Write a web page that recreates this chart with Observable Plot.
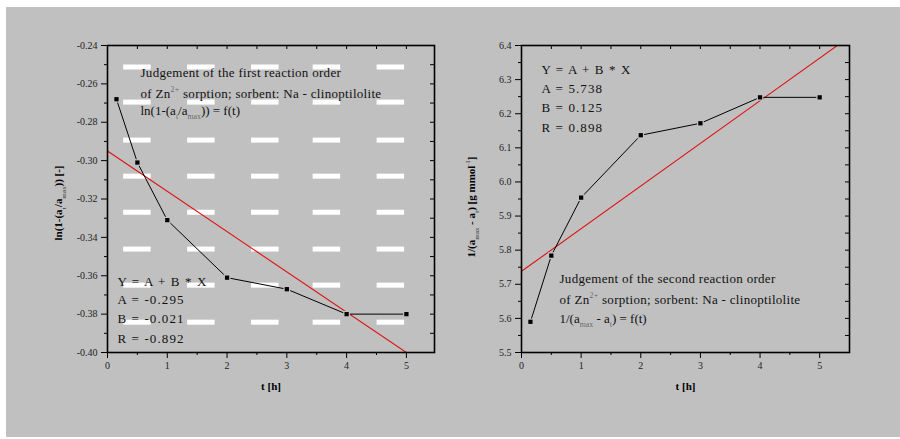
<!DOCTYPE html>
<html><head><meta charset="utf-8">
<script src="https://cdn.jsdelivr.net/npm/d3@7"></script>
<script src="https://cdn.jsdelivr.net/npm/@observablehq/plot@0.6"></script>
<style>
html,body{margin:0;padding:0;background:#fff;}
#wrap{position:relative;width:900px;height:439px;overflow:hidden;background:#fff;}
#bg{position:absolute;left:6px;top:7px;width:894px;height:430px;background:#c0c0c0;}
.panel{position:absolute;top:0;}
.panel svg text{font-family:'Liberation Serif','DejaVu Serif',serif;}
</style></head><body>
<div id="wrap"><div id="bg"></div><div id="p1" class="panel" style="left:0"></div><div id="p2" class="panel" style="left:450px"></div></div>
<script>
// ---- data ----
const tHours = [0.15, 0.5, 1, 2, 3, 4, 5];
const firstOrderY = [-0.268, -0.301, -0.331, -0.361, -0.367, -0.380, -0.380];
const secondOrderY = [5.590, 5.784, 5.954, 6.137, 6.172, 6.248, 6.248];
const fit1A = -0.295, fit1B = -0.021, fit1R = -0.892;
const fit2A = 5.738, fit2B = 0.125, fit2R = 0.898;
const xTicks = [0, 1, 2, 3, 4, 5];
const leftYTicks = [-0.40, -0.38, -0.36, -0.34, -0.32, -0.30, -0.28, -0.26, -0.24];
const rightYTicks = [5.5, 5.6, 5.7, 5.8, 5.9, 6.0, 6.1, 6.2, 6.3, 6.4];
const leftTitle = ["Judgement of the first reaction order", "of Zn^{2+} sorption; sorbent: Na - clinoptilolite", "ln(1-(a_{t}/a_{max})) = f(t)"];
const rightTitle = ["Judgement of the second reaction order", "of Zn^{2+} sorption; sorbent: Na - clinoptilolite", "1/(a_{max} - a_{t}) = f(t)"];
const leftYLabel = "ln(1-(a_{t}/a_{max})) [-]";
const rightYLabel = "1/(a_{max} - a_{t}) [g mmol^{-1}]";
const xLabel = "t [h]";
// decorative white dashes in the left panel (background artefact of the original)
const dashRows = [-0.2512, -0.2695, -0.2893, -0.3081, -0.3269, -0.3461, -0.3649, -0.3842];
const dashStarts = [0.27, 1.34, 2.41, 3.44, 4.51];
const dashLength = 0.46;

const statLines = (A, B, R) => ["Y = A + B * X", `A = ${A.toFixed(3)}`, `B = ${B.toFixed(3)}`, `R = ${R.toFixed(3)}`];
const mids = arr => d3.pairs(arr).map(([a, b]) => (a + b) / 2);

const H = 439, W = 450, MT = 45, MB = 87;
const SERIF = "'Liberation Serif', 'DejaVu Serif', serif";

function textLines(lines, dx, dys, opts) {
  return lines.map((s, i) => Plot.text([s], {text: d => d, frameAnchor: "top-left", dx, dy: dys[i],
    textAnchor: "start", lineAnchor: "bottom", fill: "#111", fontFamily: SERIF, ...opts}));
}

function panel(cfg) {
  const fw = W - cfg.marginLeft - cfg.marginRight, fh = H - MT - MB;
  const pts = tHours.map((t, i) => ({t, v: cfg.values[i]}));
  const fit = cfg.fitX.map(x => ({t: x, v: cfg.A + cfg.B * x}));
  const xMinor = mids(xTicks);
  const yMinor = mids(cfg.yTicks);
  const yAll = cfg.yTicks.concat(yMinor);
  return Plot.plot({
    width: W, height: H,
    marginLeft: cfg.marginLeft, marginRight: cfg.marginRight, marginTop: MT, marginBottom: MB,
    style: {background: "transparent", fontFamily: SERIF, overflow: "visible", color: "#000"},
    x: {domain: cfg.xDomain},
    y: {domain: cfg.yDomain},
    marks: [
      ...(cfg.dashes ? [Plot.ruleY(cfg.dashes, {y: "y", x1: "x1", x2: "x2", stroke: "white", strokeWidth: 5})] : []),
      Plot.line(fit, {x: "t", y: "v", stroke: "#e01010", strokeWidth: 1.1, clip: true}),
      Plot.line(pts, {x: "t", y: "v", stroke: "#000", strokeWidth: 1}),
      Plot.dot(pts, {x: "t", y: "v", symbol: "square", r: 3.8, fill: "#c0c0c0"}),
      Plot.dot(pts, {x: "t", y: "v", symbol: "square", r: 2.4, fill: "#000"}),
      Plot.frame({stroke: "#000", strokeWidth: 1.6}),
      Plot.axisX({anchor: "bottom", ticks: xTicks, tickSize: 6, tickPadding: 3, tickFormat: d => String(d), fontSize: 10, fontFamily: SERIF, fill: "#222", label: null}),
      Plot.axisX({anchor: "bottom", ticks: xMinor, tickSize: 3, tickFormat: () => "", label: null}),
      Plot.axisY({anchor: "left", ticks: cfg.yTicks, tickSize: 6, tickPadding: 4, tickFormat: cfg.yFmt, fontSize: 10, fontFamily: SERIF, fill: "#222", label: null}),
      Plot.axisY({anchor: "left", ticks: yMinor, tickSize: 3, tickFormat: () => "", label: null}),
      Plot.tickX(xTicks.concat(xMinor), {x: d => d, insetBottom: fh - 4, stroke: "#000"}),
      Plot.tickY(yAll, {y: d => d, insetLeft: fw - 4, stroke: "#000"}),
      ...textLines(cfg.title, cfg.titleDx, cfg.titleDy, {fontSize: 13}),
      ...textLines(cfg.stats, cfg.statDx, cfg.statDy, {fontSize: 13}),
      Plot.text([cfg.yLabel], {text: d => d, frameAnchor: "left", rotate: -90, dx: cfg.yLabelDx, dy: cfg.yLabelDy,
        textAnchor: "middle", lineAnchor: "middle", fontSize: 11, fontWeight: "bold", fontFamily: SERIF}),
      Plot.text([xLabel], {text: d => d, frameAnchor: "bottom", dy: 34, lineAnchor: "middle", fontSize: 11, fontWeight: "bold", fontFamily: SERIF})
    ]
  });
}

function markup(svg) {
  d3.select(svg).selectAll("text").each(function () {
    const s = this.textContent;
    if (s.startsWith("Y =") || /^[ABR] =/.test(s)) this.setAttribute("letter-spacing", "1.1");
    if (s.startsWith("Judgement") || s.startsWith("of Zn")) this.setAttribute("letter-spacing", "0.3");
    if (!/[_^]\{/.test(s)) return;
    const fs = parseFloat(getComputedStyle(this).fontSize) || 12;
    this.textContent = "";
    const re = /([_^])\{([^}]*)\}/g;
    let last = 0, m, shift = 0;
    const add = (txt, dy, small) => {
      const ts = document.createElementNS("http://www.w3.org/2000/svg", "tspan");
      ts.textContent = txt;
      if (dy) ts.setAttribute("dy", dy);
      if (small) { ts.setAttribute("font-size", fs * 0.6); ts.setAttribute("fill-opacity", 0.55); }
      this.appendChild(ts);
    };
    while ((m = re.exec(s))) {
      if (m.index > last) { add(s.slice(last, m.index), -shift); shift = 0; }
      const d = m[1] === "_" ? fs * 0.35 : -fs * 0.45;
      add(m[2], d - shift, true); shift = d;
      last = re.lastIndex;
    }
    if (last < s.length) add(s.slice(last), -shift);
  });
}

const dashes = dashRows.flatMap(y => dashStarts.map(x => ({y, x1: x, x2: x + dashLength})));

const left = panel({
  marginLeft: 107, marginRight: 16, xDomain: [0, 5.47], yDomain: [-0.40, -0.24], yTicks: leftYTicks,
  yFmt: d => d.toFixed(2), values: firstOrderY, A: fit1A, B: fit1B, fitX: [0, 5.47],
  dashes, title: leftTitle, titleDx: 33, titleDy: [31, 52, 69],
  stats: statLines(fit1A, fit1B, fit1R), statDx: 10, statDy: [240, 258, 277, 297],
  yLabel: leftYLabel, yLabelDx: -49, yLabelDy: 4
});
const right = panel({
  marginLeft: 71, marginRight: 51, xDomain: [0, 5.5], yDomain: [5.5, 6.4], yTicks: rightYTicks,
  yFmt: d => d.toFixed(1), values: secondOrderY, A: fit2A, B: fit2B, fitX: [0, 5.5],
  dashes: null, title: rightTitle, titleDx: 38, titleDy: [237, 258, 277],
  stats: statLines(fit2A, fit2B, fit2R), statDx: 20, statDy: [28, 47, 66, 86],
  yLabel: rightYLabel, yLabelDx: -50, yLabelDy: 8
});
document.getElementById("p1").appendChild(left);
document.getElementById("p2").appendChild(right);
markup(left); markup(right);
</script>
</body></html>
